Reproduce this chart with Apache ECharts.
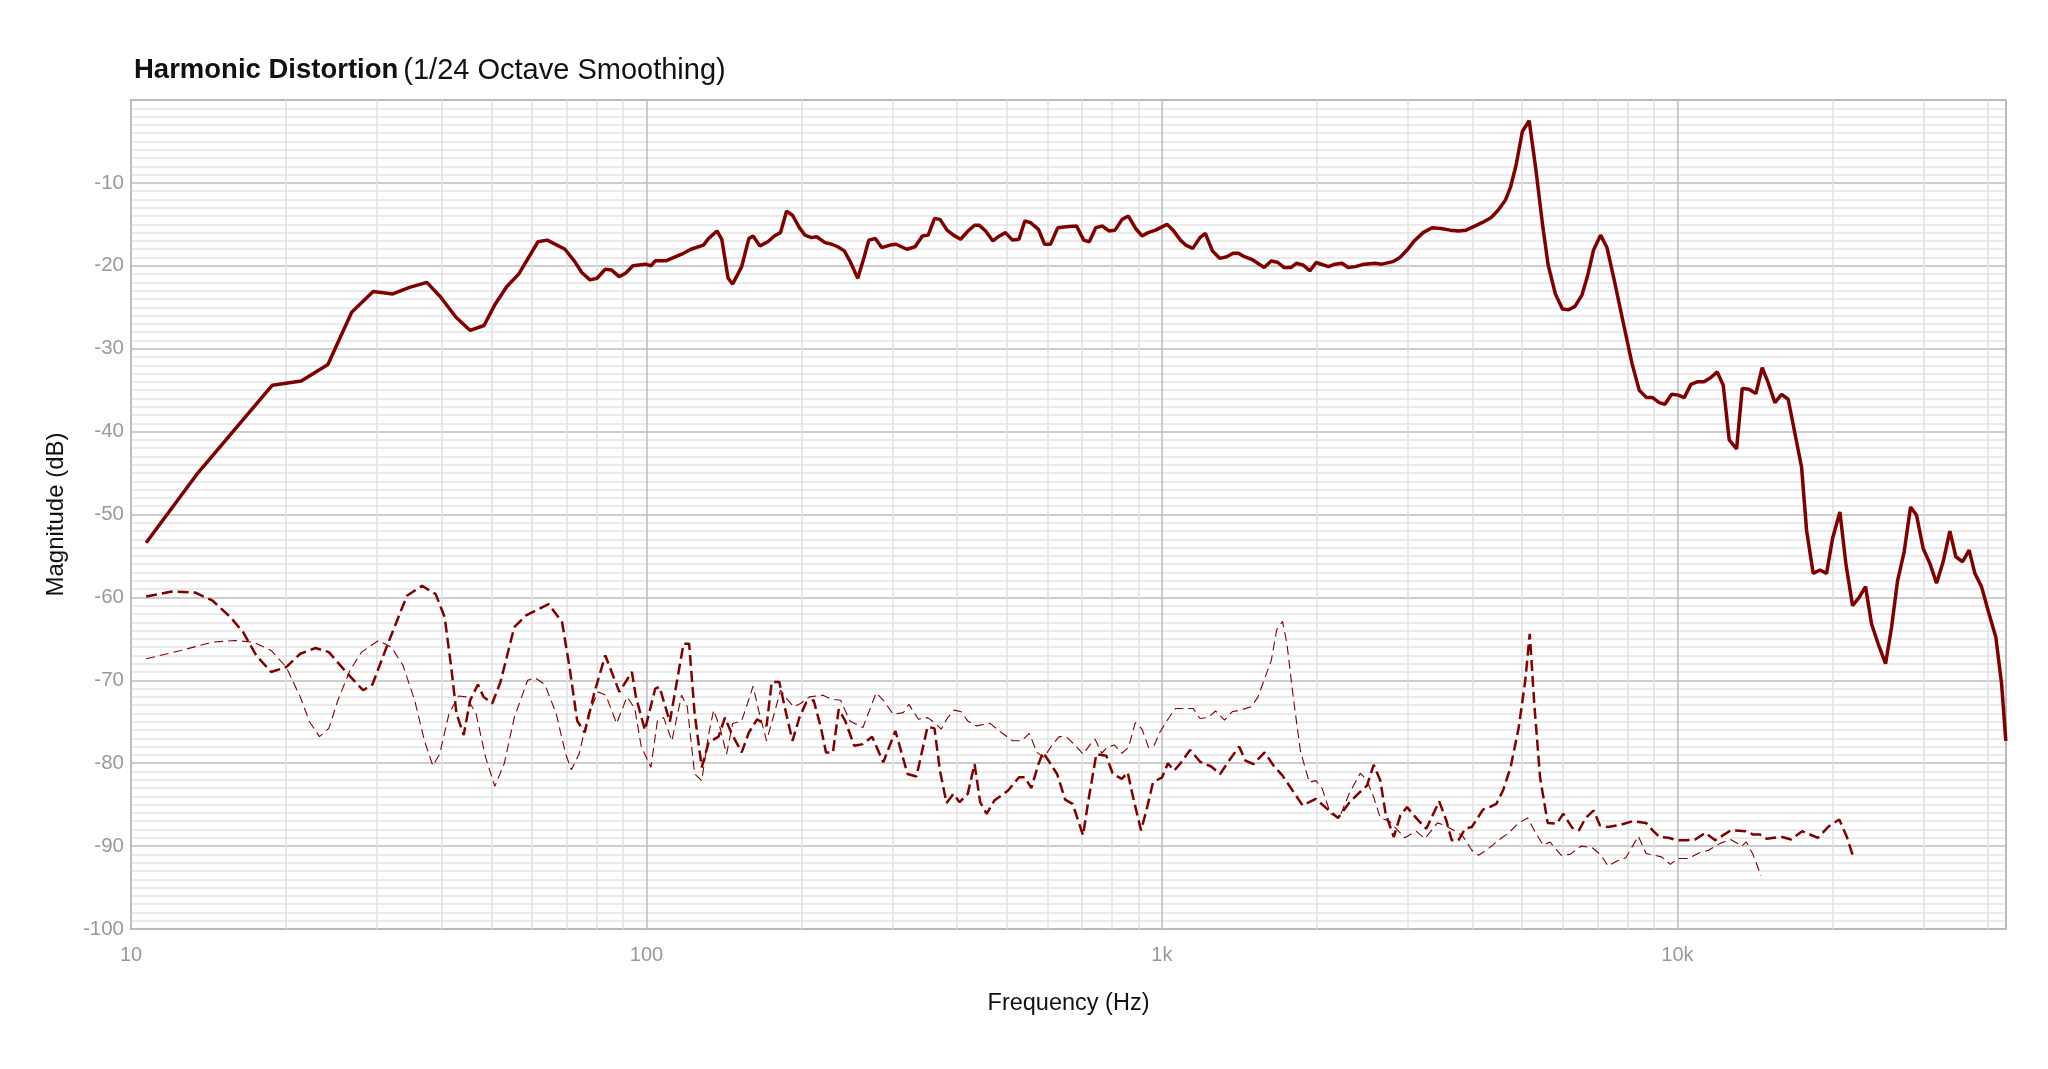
<!DOCTYPE html>
<html>
<head>
<meta charset="utf-8">
<title>Harmonic Distortion</title>
<script src="https://cdn.jsdelivr.net/npm/echarts@6/dist/echarts.min.js"></script>
<style>
  html, body { margin: 0; padding: 0; background: #fff; }
  #chart { width: 2048px; height: 1069px; }
</style>
</head>
<body>
<div id="chart"></div>
<script>
// [frequency Hz, dB]
const fundamental = [
  [10.7,-53.4],[13.4,-45.2],[18.8,-34.4],[21.4,-33.9],[24.1,-31.9],[26.8,-25.6],[29.5,-23.1],[32.2,-23.4],
  [34.7,-22.6],[37.5,-22.0],[39.9,-23.8],[42.7,-26.2],[45.5,-27.8],[48.4,-27.2],[50.9,-24.6],[53.6,-22.5],
  [56.5,-21.0],[61.6,-17.1],[64.2,-16.9],[69.5,-18.0],[72.6,-19.5],[74.9,-20.8],[77.7,-21.7],[80.2,-21.5],
  [83.2,-20.4],[85.5,-20.5],[88.5,-21.3],[91.1,-20.9],[94.1,-20.0],[99.5,-19.8],[102,-20.0],[104,-19.4],
  [109,-19.4],[117,-18.6],[122,-18.0],[129,-17.5],[132,-16.7],[137,-15.8],[140,-16.8],[144,-21.5],
  [147,-22.2],[153,-20.1],[158,-16.7],[161,-16.4],[166,-17.6],[172,-17.1],[177,-16.4],[182,-16.0],
  [187,-13.4],[192,-13.9],[198,-15.4],[203,-16.3],[209,-16.6],[214,-16.5],[222,-17.2],[229,-17.4],
  [235,-17.7],[242,-18.2],[248,-19.4],[257,-21.5],[264,-19.1],[270,-16.9],[278,-16.7],[286,-17.8],
  [297,-17.5],[305,-17.4],[320,-18.0],[332,-17.7],[343,-16.4],[352,-16.3],[362,-14.3],[371,-14.4],
  [383,-15.7],[394,-16.3],[407,-16.8],[419,-15.9],[433,-15.1],[442,-15.1],[455,-15.8],[470,-17.0],
  [484,-16.4],[497,-16.0],[513,-16.9],[528,-16.8],[542,-14.6],[556,-14.8],[576,-15.6],[592,-17.4],
  [608,-17.4],[628,-15.4],[652,-15.3],[683,-15.2],[705,-16.9],[723,-17.1],[744,-15.4],[767,-15.2],
  [789,-15.8],[811,-15.7],[837,-14.4],[861,-14.0],[889,-15.5],[915,-16.4],[940,-16.0],[972,-15.7],
  [1023,-15.0],[1051,-15.7],[1086,-16.9],[1112,-17.5],[1148,-17.9],[1185,-16.6],[1214,-16.1],[1253,-18.2],
  [1294,-19.1],[1336,-18.9],[1373,-18.5],[1408,-18.5],[1446,-18.9],[1501,-19.3],[1579,-20.2],[1631,-19.4],
  [1679,-19.6],[1724,-20.2],[1781,-20.2],[1823,-19.7],[1877,-19.9],[1938,-20.6],[1991,-19.6],[2105,-20.1],
  [2166,-19.8],[2236,-19.7],[2297,-20.2],[2373,-20.1],[2469,-19.8],[2590,-19.7],[2673,-19.8],[2805,-19.5],
  [2895,-19.0],[2989,-18.1],[3087,-17.0],[3211,-16.0],[3342,-15.4],[3478,-15.5],[3621,-15.7],[3766,-15.8],
  [3890,-15.7],[4015,-15.3],[4178,-14.8],[4348,-14.2],[4489,-13.3],[4636,-12.1],[4746,-10.5],[4863,-7.9],
  [5003,-3.8],[5158,-2.5],[5307,-8.1],[5482,-15.3],[5614,-19.9],[5798,-23.4],[5984,-25.2],[6149,-25.3],
  [6329,-24.9],[6531,-23.5],[6690,-21.3],[6875,-18.1],[7096,-16.3],[7301,-17.8],[7540,-21.7],[7848,-26.8],
  [8166,-31.8],[8432,-35.0],[8716,-35.9],[8950,-35.9],[9222,-36.5],[9459,-36.7],[9744,-35.5],[10039,-35.6],
  [10311,-35.9],[10622,-34.3],[10926,-34.0],[11257,-34.0],[11599,-33.5],[11947,-32.8],[12272,-34.4],[12605,-41.0],
  [13027,-42.1],[13358,-34.8],[13761,-34.9],[14200,-35.4],[14605,-32.3],[15001,-34.1],[15457,-36.5],[15927,-35.5],
  [16403,-36.1],[16902,-40.2],[17415,-44.3],[17808,-51.9],[18340,-57.1],[18897,-56.7],[19471,-57.1],[19999,-52.9],
  [20665,-49.7],[21224,-55.9],[21869,-61.0],[22524,-60.0],[23174,-58.7],[23806,-63.2],[24517,-65.6],[25339,-68.0],
  [26031,-63.6],[26737,-58.0],[27537,-54.5],[28334,-49.1],[29107,-50.1],[29978,-54.1],[30888,-55.9],[31826,-58.3],
  [32778,-55.7],[33775,-52.0],[34692,-55.1],[35746,-55.7],[36813,-54.3],[37764,-57.1],[38905,-58.7],[40077,-61.6],
  [41475,-64.8],[42549,-70.4],[43370,-77.3]
];

const harmonic2 = [
  [10.7,-59.9],[12.0,-59.3],[13.3,-59.4],[14.4,-60.4],[15.6,-62.4],[16.5,-64.2],[17.5,-67.0],[18.7,-69.0],
  [20.0,-68.4],[21.3,-66.8],[22.8,-66.1],[24.2,-66.6],[26.3,-69.2],[28.2,-71.2],[29.4,-70.5],[31.5,-65.6],
  [34.3,-59.8],[36.7,-58.6],[39.0,-59.6],[40.6,-62.4],[41.8,-68.4],[42.8,-74.0],[44.2,-76.6],[45.5,-72.4],
  [47.1,-70.5],[48.3,-72.0],[50.2,-72.8],[52.1,-70.2],[55.4,-63.6],[58.3,-62.2],[61.4,-61.5],[64.6,-60.8],
  [68.6,-63.0],[70.9,-68.4],[73.4,-74.9],[75.9,-76.3],[79.3,-71.4],[83.2,-67.0],[88.6,-71.4],[93.7,-69.0],
  [95.4,-72.0],[99.3,-76.0],[104,-71.0],[106,-70.8],[111,-75.0],[118,-65.6],[121,-65.6],[124,-74.0],
  [128,-80.5],[132,-77.5],[138,-76.8],[142,-74.5],[146,-76.3],[153,-78.7],[158,-76.3],[164,-74.7],
  [171,-75.5],[175,-70.2],[181,-70.2],[186,-73.6],[192,-77.3],[198,-74.5],[204,-72.7],[211,-72.4],
  [218,-75.7],[223,-78.7],[230,-78.7],[236,-73.5],[243,-74.9],[253,-77.9],[263,-77.7],[274,-76.8],
  [288,-79.9],[304,-76.1],[321,-81.3],[334,-81.6],[351,-75.6],[362,-75.8],[371,-80.9],[382,-84.8],
  [394,-83.7],[405,-84.7],[420,-83.7],[433,-80.1],[444,-84.7],[457,-86.1],[473,-84.5],[503,-83.3],
  [528,-81.7],[542,-81.7],[558,-83.0],[576,-80.1],[588,-78.7],[604,-79.8],[626,-81.3],[649,-84.4],
  [671,-84.9],[703,-88.7],[720,-84.5],[746,-78.9],[780,-79.1],[803,-81.3],[836,-81.9],[858,-81.1],
  [882,-84.5],[911,-88.1],[933,-85.7],[961,-82.3],[1001,-81.7],[1027,-80.0],[1056,-80.9],[1090,-79.9],
  [1134,-78.4],[1185,-79.8],[1246,-80.4],[1297,-81.3],[1349,-79.7],[1412,-78.0],[1452,-79.7],[1505,-80.1],
  [1582,-78.7],[1647,-80.3],[1714,-81.5],[1801,-83.5],[1875,-85.1],[1988,-84.3],[2100,-85.6],[2196,-86.6],
  [2307,-84.8],[2401,-83.7],[2499,-82.7],[2575,-80.2],[2653,-82.1],[2716,-86.1],[2817,-88.9],[2901,-86.3],
  [2989,-85.3],[3112,-86.6],[3257,-87.9],[3451,-84.6],[3562,-86.9],[3649,-89.3],[3760,-89.3],[3874,-87.9],
  [3992,-87.7],[4195,-85.6],[4322,-85.3],[4454,-84.9],[4589,-83.3],[4747,-80.5],[4922,-75.7],[5069,-70.0],
  [5171,-64.4],[5276,-72.8],[5414,-81.7],[5602,-87.2],[5830,-87.3],[6007,-86.1],[6252,-87.8],[6442,-88.1],
  [6637,-86.6],[6882,-85.7],[7074,-87.5],[7331,-87.7],[7783,-87.4],[8184,-87.0],[8690,-87.2],[8954,-88.1],
  [9226,-88.9],[9600,-89.0],[9989,-89.3],[10400,-89.3],[10822,-89.2],[11332,-88.4],[11840,-89.3],[12690,-88.1],
  [13553,-88.2],[14023,-88.6],[14450,-88.6],[14890,-89.1],[15960,-88.9],[16620,-89.2],[17460,-88.2],[18730,-89.0],
  [19680,-87.6],[20610,-86.8],[21320,-88.9],[21880,-91.1]
];

const harmonic3 = [
  [10.7,-67.4],[12.5,-66.4],[14.4,-65.4],[15.9,-65.2],[17.3,-65.4],[18.7,-66.4],[20.0,-68.4],[21.3,-72.0],
  [22.2,-75.0],[23.2,-76.8],[24.2,-75.8],[25.2,-72.4],[26.6,-68.8],[28.0,-66.6],[30.2,-65.2],[32.0,-66.0],
  [33.7,-68.2],[35.5,-72.4],[37.1,-77.3],[38.5,-80.3],[39.7,-78.9],[41.4,-74.0],[43.2,-71.9],[44.7,-72.0],
  [46.7,-74.0],[48.7,-79.2],[50.8,-82.8],[53.0,-80.0],[55.4,-74.5],[58.8,-70.0],[60.8,-69.7],[63.5,-70.5],
  [66.8,-74.0],[69.7,-78.9],[71.5,-80.8],[74.0,-78.9],[77.2,-74.0],[80.6,-71.4],[83.4,-71.8],[87.5,-75.2],
  [91.7,-72.0],[94.9,-73.4],[97.7,-78.0],[102,-80.5],[105,-74.9],[108,-74.5],[112,-77.3],[117,-71.8],
  [120,-73.2],[124,-81.3],[128,-82.1],[132,-76.5],[135,-73.6],[139,-75.8],[143,-78.9],[147,-75.2],
  [153,-74.9],[157,-72.8],[161,-70.7],[165,-73.6],[171,-77.3],[177,-74.0],[182,-71.2],[187,-72.2],
  [193,-73.2],[199,-72.8],[207,-72.0],[220,-71.8],[229,-72.3],[238,-72.4],[248,-74.9],[263,-75.7],
  [279,-71.5],[288,-72.4],[301,-74.1],[315,-73.9],[323,-72.9],[337,-74.7],[351,-74.5],[362,-75.1],
  [373,-75.9],[384,-74.5],[396,-73.6],[408,-73.8],[420,-74.9],[436,-75.5],[464,-75.2],[488,-76.3],
  [513,-77.3],[534,-77.3],[553,-76.4],[572,-78.7],[590,-79.3],[614,-77.7],[632,-76.8],[652,-76.8],
  [678,-77.8],[703,-78.9],[727,-77.7],[742,-77.1],[764,-78.8],[783,-78.1],[808,-77.8],[836,-78.8],
  [861,-78.1],[888,-75.1],[915,-75.9],[942,-78.1],[967,-77.8],[990,-76.3],[1027,-74.7],[1062,-73.4],
  [1105,-73.4],[1150,-73.4],[1185,-74.6],[1228,-74.5],[1271,-73.7],[1323,-74.8],[1368,-73.8],[1418,-73.6],
  [1490,-73.2],[1536,-72.0],[1582,-69.8],[1630,-67.6],[1670,-63.9],[1714,-62.9],[1748,-65.6],[1801,-72.4],
  [1856,-78.5],[1931,-82.3],[1990,-82.1],[2047,-83.1],[2123,-86.1],[2208,-86.6],[2307,-83.7],[2425,-81.2],
  [2499,-82.1],[2575,-84.1],[2653,-86.6],[2761,-87.0],[2960,-89.0],[3112,-88.2],[3237,-89.1],[3423,-87.2],
  [3541,-87.5],[3685,-88.1],[3834,-88.8],[3992,-90.5],[4114,-91.1],[4280,-90.4],[4499,-89.3],[4727,-88.3],
  [4922,-87.2],[5122,-86.6],[5277,-88.1],[5492,-89.9],[5659,-89.5],[5949,-91.1],[6190,-91.0],[6508,-90.0],
  [6839,-90.2],[7116,-91.1],[7331,-92.4],[7633,-91.8],[7942,-91.4],[8185,-90.0],[8400,-88.8],[8690,-90.9],
  [9041,-91.1],[9316,-91.3],[9694,-92.2],[9989,-91.5],[10500,-91.5],[11037,-90.8],[11483,-90.5],[12075,-89.7],
  [12690,-89.2],[13342,-90.0],[13604,-89.5],[14018,-91.0],[14533,-93.6]
];

// minor vertical gridlines (2..9 in each decade)
const minorFreqs = [
  20, 30, 40, 50, 60, 70, 80, 90,
  200, 300, 400, 500, 600, 700, 800, 900,
  2000, 3000, 4000, 5000, 6000, 7000, 8000, 9000,
  20000, 30000, 40000
];

const FONT = "'Helvetica Neue', 'Liberation Sans', Arial, sans-serif";
const RED = '#800000';

let myChart = echarts.init(document.querySelector('#chart'), null, { renderer: 'canvas' });

let option = {
  animation: false,
  backgroundColor: '#fff',
  title: {
    text: '{b|Harmonic Distortion} {n|(1/24 Octave Smoothing)}',
    left: 129,
    top: 51,
    textStyle: {
      rich: {
        b: { fontFamily: FONT, fontSize: 27.5, fontWeight: 'bold', color: '#111' },
        n: { fontFamily: FONT, fontSize: 29, fontWeight: 'normal', color: '#111' }
      }
    }
  },
  grid: {
    left: 131,
    right: 42,
    top: 100,
    bottom: 140,
    show: true,
    borderColor: '#b5b5b5',
    borderWidth: 2,
    backgroundColor: 'transparent'
  },
  xAxis: {
    type: 'log',
    logBase: 10,
    min: 10,
    max: 43400,
    name: 'Frequency (Hz)',
    nameLocation: 'middle',
    nameGap: 63,
    nameTextStyle: { fontFamily: FONT, fontSize: 23.5, color: '#111' },
    axisLine: { show: false },
    axisTick: { show: false },
    axisLabel: {
      fontFamily: FONT,
      fontSize: 20,
      color: '#999',
      margin: 16,
      showMaxLabel: false,
      formatter: function (v) {
        const l = Math.log10(v);
        if (Math.abs(l - Math.round(l)) > 1e-6) return '';
        if (v >= 1000) return (v / 1000) + 'k';
        return String(v);
      }
    },
    splitLine: { show: true, lineStyle: { color: '#bdbdbd', width: 1.5 } }
  },
  yAxis: {
    type: 'value',
    min: -100,
    max: 0,
    interval: 10,
    name: 'Magnitude (dB)',
    nameLocation: 'middle',
    nameGap: 63,
    nameTextStyle: { fontFamily: FONT, fontSize: 24, color: '#111' },
    axisLine: { show: false },
    axisTick: { show: false },
    axisLabel: {
      fontFamily: FONT,
      fontSize: 20.5,
      color: '#999',
      margin: 7,
      showMaxLabel: false
    },
    splitLine: { show: true, lineStyle: { color: '#bdbdbd', width: 1.5 } },
    minorTick: { show: false, splitNumber: 10 },
    minorSplitLine: { show: true, lineStyle: { color: '#e3e3e3', width: 1.5 } }
  },
  series: [
    {
      name: 'grid',
      type: 'line',
      data: [],
      silent: true,
      z: 1,
      markLine: {
        silent: true,
        z: 1,
        symbol: ['none', 'none'],
        label: { show: false },
        lineStyle: { color: '#e0e0e0', width: 1.5, type: 'solid' },
        emphasis: { disabled: true },
        data: minorFreqs.map(f => ({ xAxis: f }))
      }
    },
    {
      name: 'H3',
      type: 'line',
      data: harmonic3,
      showSymbol: false,
      symbol: 'none',
      z: 3,
      lineStyle: { color: RED, width: 1.1, type: [9, 5] }
    },
    {
      name: 'H2',
      type: 'line',
      data: harmonic2,
      showSymbol: false,
      symbol: 'none',
      z: 4,
      lineStyle: { color: RED, width: 2.5, type: [11, 5] }
    },
    {
      name: 'Fundamental',
      type: 'line',
      data: fundamental,
      showSymbol: false,
      symbol: 'none',
      z: 5,
      lineStyle: { color: RED, width: 3.5 }
    }
  ]
};

myChart.setOption(option);
</script>
</body>
</html>
